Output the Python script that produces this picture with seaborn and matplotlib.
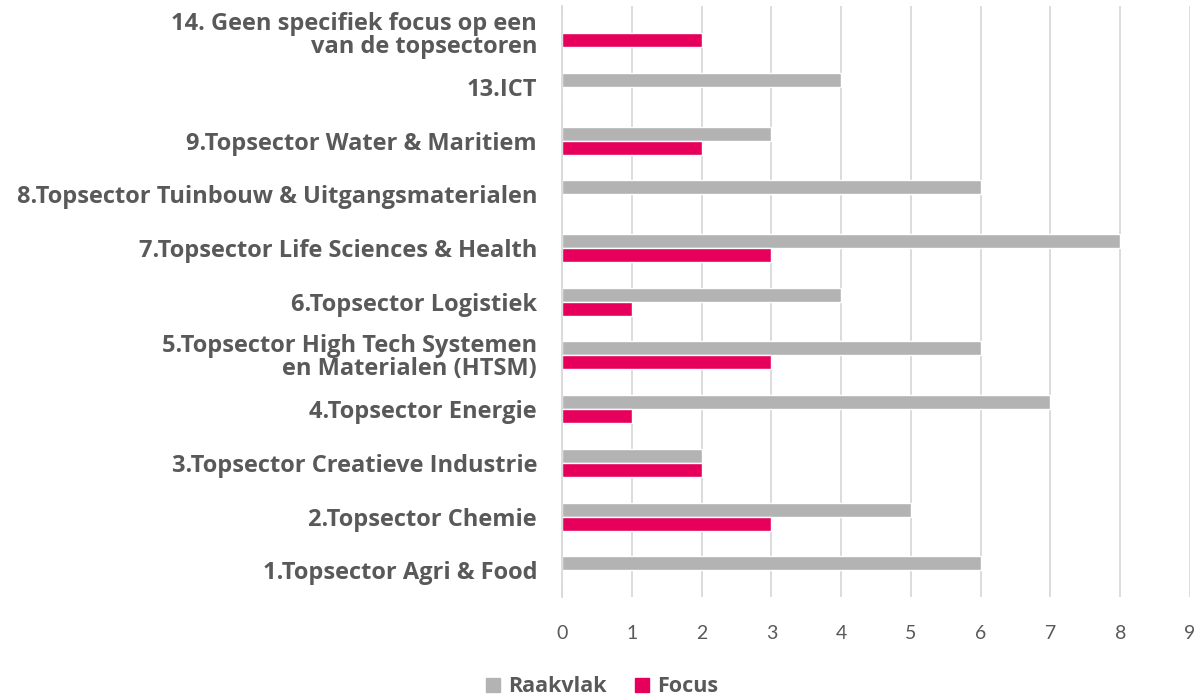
import pandas as pd
import matplotlib.pyplot as plt
import seaborn as sns

sns.set_style("white")
plt.rcParams['font.family'] = ['Open Sans', 'DejaVu Sans']

# Gegevens (van boven naar beneden)
categorieen = [
    "14. Geen specifiek focus op een\nvan de topsectoren",
    "13.ICT",
    "9.Topsector Water & Maritiem",
    "8.Topsector Tuinbouw & Uitgangsmaterialen",
    "7.Topsector Life Sciences & Health",
    "6.Topsector Logistiek",
    "5.Topsector High Tech Systemen\nen Materialen (HTSM)",
    "4.Topsector Energie",
    "3.Topsector Creatieve Industrie",
    "2.Topsector Chemie",
    "1.Topsector Agri & Food",
]
raakvlak = [0, 4, 3, 6, 8, 4, 6, 7, 2, 5, 6]
focus = [2, 0, 2, 0, 3, 1, 3, 1, 2, 3, 0]
reeksen = ["Raakvlak", "Focus"]
kleuren = ["#b3b3b3", "#e6005c"]

df = pd.DataFrame({
    "Categorie": categorieen * 2,
    "Reeks": [reeksen[0]] * len(categorieen) + [reeksen[1]] * len(categorieen),
    "Waarde": raakvlak + focus,
})

fig = plt.figure(figsize=(12.04, 7), dpi=100)
ax = fig.add_axes([0.4668, 0.147, 0.5216, 0.844])

sns.barplot(data=df, x="Waarde", y="Categorie", hue="Reeks", order=categorieen,
            hue_order=reeksen, palette=kleuren, width=0.52, orient="h",
            saturation=1, ax=ax, legend=False)

tekstkleur = "#595959"
ax.set_xlim(0, 9)
ax.set_xticks(range(0, 10))
ax.grid(axis="x", color="#d9d9d9", linewidth=1.3)
ax.set_axisbelow(True)
for s in ["top", "right", "bottom"]:
    ax.spines[s].set_visible(False)
ax.spines["left"].set_color("#d9d9d9")
ax.spines["left"].set_linewidth(1.3)
ax.tick_params(axis="x", length=0, pad=20, labelsize=14, labelcolor=tekstkleur)
ax.tick_params(axis="y", length=0, pad=18, labelsize=17, labelcolor=tekstkleur)
for lbl in ax.get_xticklabels():
    lbl.set_fontfamily(['Lato', 'DejaVu Sans'])
for lbl in ax.get_yticklabels():
    lbl.set_fontweight("bold")
    lbl.set_linespacing(0.92)
ax.set_xlabel("")
ax.set_ylabel("")

handles = [plt.Rectangle((0, 0), 1, 1, color=c) for c in kleuren]
leg = fig.legend(handles, reeksen, loc="lower center", bbox_to_anchor=(0.5, -0.024),
                 ncol=2, frameon=False, handlelength=0.65, handleheight=0.65,
                 handletextpad=0.4, columnspacing=1.3,
                 prop={"size": 15.5, "weight": "bold"})
for t in leg.get_texts():
    t.set_color(tekstkleur)

fig.savefig("out.png", dpi=100)
